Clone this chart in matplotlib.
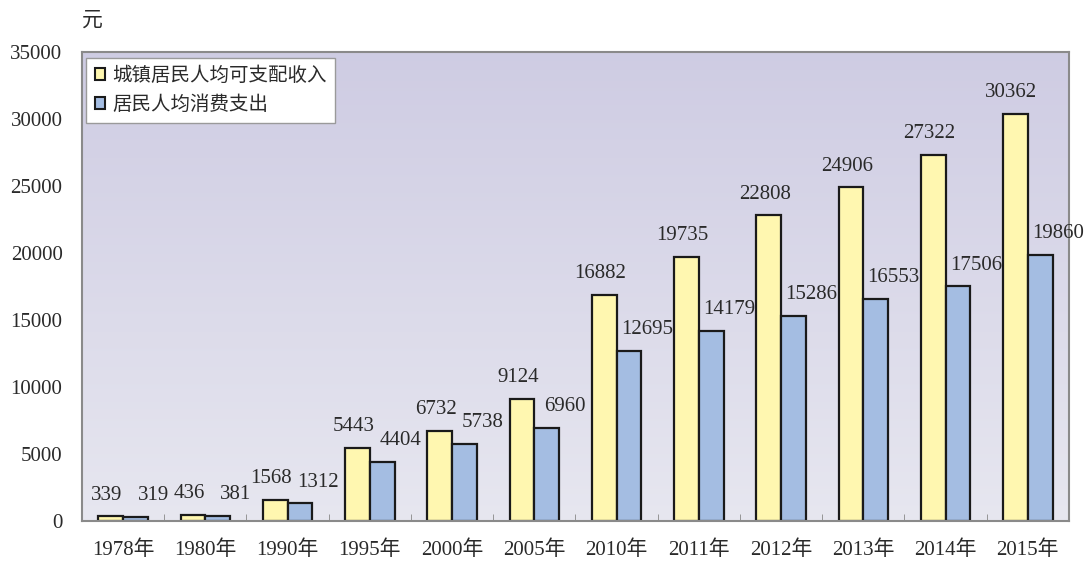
import numpy as np
import matplotlib.pyplot as plt
from matplotlib.patches import Rectangle

plt.rcParams['font.family'] = ['Liberation Serif', 'Noto Sans CJK SC', 'DejaVu Sans']

years = ["1978年", "1980年", "1990年", "1995年", "2000年", "2005年",
         "2010年", "2011年", "2012年", "2013年", "2014年", "2015年"]
income = [339, 436, 1568, 5443, 6732, 9124, 16882, 19735, 22808, 24906, 27322, 30362]
spending = [319, 381, 1312, 4404, 5738, 6960, 12695, 14179, 15286, 16553, 17506, 19860]
series_names = ["城镇居民人均可支配收入", "居民人均消费支出"]

YELLOW = "#fff7b0"
BLUE = "#a4bde2"
TXT = "#2a2a2a"

fig = plt.figure(figsize=(10.87, 5.66), dpi=100)
ax = fig.add_axes([0.0754, 0.0795, 0.9080, 0.8285])

# gradient background of the plot area
grad = np.linspace(0, 1, 256).reshape(-1, 1)
c_top = np.array([0.81, 0.80, 0.89])
c_bot = np.array([0.905, 0.905, 0.94])
img = c_bot + (c_top - c_bot) * grad
ax.imshow(img[:, None, :].repeat(2, axis=1), extent=[0, 1, 0, 1], transform=ax.transAxes,
          aspect="auto", origin="lower", zorder=0)

x = np.arange(len(years))
w = 0.30
b1 = ax.bar(x - w / 2, income, w, color=YELLOW, edgecolor="#1a1a1a", linewidth=1.6, zorder=2)
b2 = ax.bar(x + w / 2, spending, w, color=BLUE, edgecolor="#1a1a1a", linewidth=1.6, zorder=2)

# value labels: income centred (a bit left), spending pushed to the right
for bars, vals, dx in ((b1, income, -3), (b2, spending, 13)):
    for r, v in zip(bars, vals):
        ax.annotate(str(v), (r.get_x() + r.get_width() / 2, v), xytext=(dx, 8.5),
                    textcoords="offset points", ha="center", va="bottom",
                    fontsize=15, color=TXT, zorder=3)

ax.set_xlim(-0.5, len(years) - 0.5)
ax.set_ylim(0, 35000)
ax.set_yticks(np.arange(0, 35001, 5000))
ax.tick_params(axis="y", length=0, labelsize=15, pad=14, colors=TXT)
ax.set_xticks(x)
ax.set_xticklabels(years)
ax.tick_params(axis="x", length=0, labelsize=15, pad=14, colors=TXT)
ax.set_xticks(np.arange(-0.5, len(years)), minor=True)
ax.tick_params(axis="x", which="minor", direction="in", length=5, color="#888888")

for s in ax.spines.values():
    s.set_color("#8a8a8a")
    s.set_linewidth(1.5)

ax.text(0.0, 1.045, "元", transform=ax.transAxes, fontsize=15, ha="left", va="bottom", color=TXT)

handles = [Rectangle((0, 0), 1, 1, facecolor=YELLOW, edgecolor="#1a1a1a", linewidth=1.5),
           Rectangle((0, 0), 1, 1, facecolor=BLUE, edgecolor="#1a1a1a", linewidth=1.5)]
leg = ax.legend(handles, series_names, loc="upper left", bbox_to_anchor=(0.004, 0.988),
                fontsize=14, frameon=True, fancybox=False, handlelength=0.55, handleheight=0.55,
                handletextpad=0.35, borderpad=0.45, labelspacing=0.55, borderaxespad=0,
                labelcolor=TXT)
leg.get_frame().set_edgecolor("#9a9a9a")
leg.get_frame().set_linewidth(1.0)
leg.get_frame().set_facecolor("white")
leg.get_frame().set_alpha(1)

fig.savefig("out.png", dpi=100)
